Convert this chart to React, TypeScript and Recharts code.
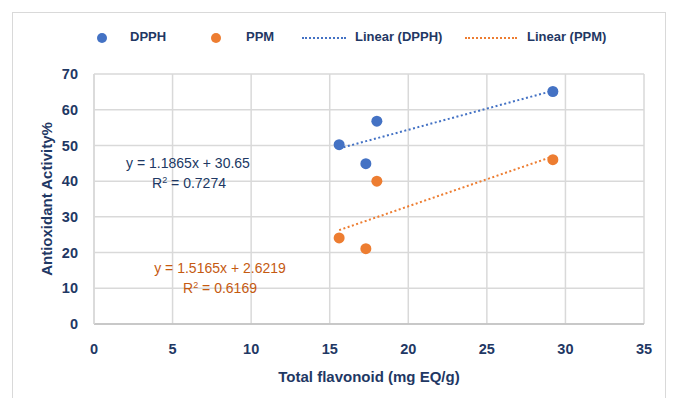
import { CartesianGrid, Scatter, ScatterChart, XAxis, YAxis } from "recharts";

const flavonoid = [15.6, 17.3, 18.0, 29.2];
const dpph = [50.2, 44.9, 56.8, 65.1];
const ppm = [24.1, 21.1, 40.0, 46.0];

const xTicks = [0, 5, 10, 15, 20, 25, 30, 35];
const yTicks = [0, 10, 20, 30, 40, 50, 60, 70];

// regression coefficients printed on the chart
const dpphFit = { slope: 1.1865, intercept: 30.65, r2: "0.7274" };
const ppmFit = { slope: 1.5165, intercept: 2.6219, r2: "0.6169" };

const BLUE = "#4472C4";
const ORANGE = "#ED7D31";
const NAVY = "#1F3864";
const FONT = "'Liberation Sans', Arial, sans-serif";

const dpphData = flavonoid.map((x, i) => ({ x, y: dpph[i] }));
const ppmData = flavonoid.map((x, i) => ({ x, y: ppm[i] }));

const xMin = Math.min(...flavonoid);
const xMax = Math.max(...flavonoid);
const trend = (fit: { slope: number; intercept: number }) => [
  { x: xMin, y: fit.slope * xMin + fit.intercept },
  { x: xMax, y: fit.slope * xMax + fit.intercept },
];

const tickStyle = { fill: NAVY, fontSize: 14.5, fontWeight: 700, fontFamily: FONT };

function Legend() {
  const item = { position: "absolute" as const, top: 29, fontSize: 13, fontWeight: 700, color: NAVY, fontFamily: FONT };
  const dot = (color: string, left: number) => (
    <div style={{ position: "absolute", left, top: 33, width: 10, height: 10, borderRadius: 5, background: color }} />
  );
  const dash = (color: string, left: number, width: number) => (
    <div style={{ position: "absolute", left, top: 37, width, height: 0, borderTop: `2px dotted ${color}` }} />
  );
  return (
    <>
      {dot(BLUE, 97)}
      <div style={{ ...item, left: 130 }}>DPPH</div>
      {dot(ORANGE, 211)}
      <div style={{ ...item, left: 246 }}>PPM</div>
      {dash(BLUE, 302, 44)}
      <div style={{ ...item, left: 355 }}>Linear (DPPH)</div>
      {dash(ORANGE, 465, 52)}
      <div style={{ ...item, left: 527 }}>Linear (PPM)</div>
    </>
  );
}

export default function App() {
  return (
    <div style={{ position: "absolute", left: 0, top: 0, width: 673, height: 398, background: "#fff", overflow: "hidden" }}>
      <div style={{ position: "absolute", left: 12, top: 12, width: 652, height: 400, border: "1px solid #d9d9d9" }} />
      <Legend />
      <ScatterChart width={673} height={398} margin={{ top: 74, right: 29, bottom: 18, left: 0 }}>
        <CartesianGrid stroke="#d9d9d9" strokeWidth={1.5} />
        <XAxis
          type="number"
          dataKey="x"
          domain={[0, 35]}
          ticks={xTicks}
          height={56}
          stroke="#bfbfbf"
          strokeWidth={1.5}
          tickLine={false}
          tickMargin={14}
          tick={tickStyle}
          label={{ value: "Total flavonoid (mg EQ/g)", position: "insideBottom", offset: -2, style: { ...tickStyle, fontSize: 15 } }}
        />
        <YAxis
          type="number"
          dataKey="y"
          domain={[0, 70]}
          ticks={yTicks}
          width={94}
          stroke="#d9d9d9"
          strokeWidth={1.5}
          tickLine={false}
          tickMargin={10}
          tick={tickStyle}
          label={{ value: "Antioxidant Activity%", angle: -90, position: "insideLeft", offset: 47, style: { ...tickStyle, fontSize: 15, textAnchor: "middle" } }}
        />
        <Scatter
          data={trend(dpphFit)}
          line={{ stroke: BLUE, strokeWidth: 2, strokeDasharray: "2 2.5" }}
          shape={() => null}
          isAnimationActive={false}
        />
        <Scatter
          data={trend(ppmFit)}
          line={{ stroke: ORANGE, strokeWidth: 2, strokeDasharray: "2 2.5" }}
          shape={() => null}
          isAnimationActive={false}
        />
        <Scatter data={dpphData} fill={BLUE} shape={(p: any) => <circle cx={p.cx} cy={p.cy} r={5.5} fill={BLUE} />} isAnimationActive={false} />
        <Scatter data={ppmData} fill={ORANGE} shape={(p: any) => <circle cx={p.cx} cy={p.cy} r={5.5} fill={ORANGE} />} isAnimationActive={false} />
        <text x={188} y={168} textAnchor="middle" fill="#203864" fontSize={14} fontFamily={FONT}>
          {`y = ${dpphFit.slope}x + ${dpphFit.intercept}`}
        </text>
        <text x={189} y={188} textAnchor="middle" fill="#203864" fontSize={14} fontFamily={FONT}>
          R<tspan fontSize={9} dy={-5}>2</tspan><tspan dy={5}>{` = ${dpphFit.r2}`}</tspan>
        </text>
        <text x={220} y={273} textAnchor="middle" fill="#C55A11" fontSize={14} fontFamily={FONT}>
          {`y = ${ppmFit.slope}x + ${ppmFit.intercept}`}
        </text>
        <text x={220} y={293} textAnchor="middle" fill="#C55A11" fontSize={14} fontFamily={FONT}>
          R<tspan fontSize={9} dy={-5}>2</tspan><tspan dy={5}>{` = ${ppmFit.r2}`}</tspan>
        </text>
      </ScatterChart>
    </div>
  );
}
